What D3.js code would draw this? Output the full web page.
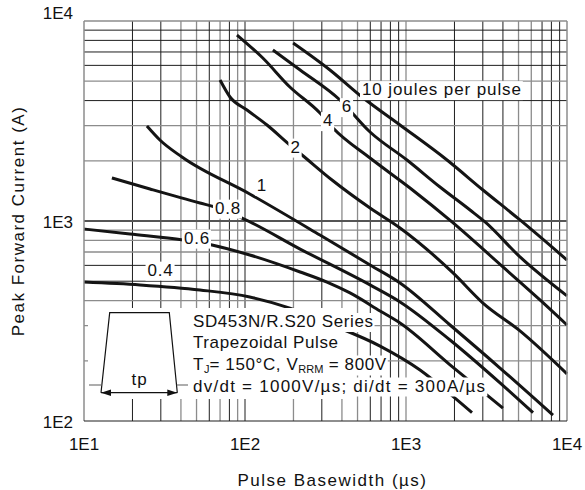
<!DOCTYPE html>
<html>
<head>
<meta charset="utf-8">
<script src="https://cdn.jsdelivr.net/npm/d3@7"></script>
<style>
  body { margin: 0; background: #fff; }
  svg text { font-family: "Liberation Sans", Arial, sans-serif; fill: #111; }
</style>
</head>
<body>
<svg id="chart" width="585" height="490"></svg>
<script>
// **** Data
const xTicks = [10, 100, 1000, 10000];
const xTickLabels = ["1E1", "1E2", "1E3", "1E4"];
const yTicks = [100, 1000, 10000];
const yTickLabels = ["1E2", "1E3", "1E4"];

// [pulse basewidth (µs), peak forward current (A)] for each energy
const curve04 = [[10, 495], [22.3, 479], [52.5, 452], [107, 417], [190, 367], [337, 305], [690, 237], [1222, 180], [2015, 130], [2570, 110]];
const curve06 = [[10, 912], [19.3, 861], [41.2, 804], [62.4, 759], [107, 676], [220, 556], [323, 495], [449, 437], [690, 355], [918, 309], [1877, 191], [4000, 116]];
const curve08 = [[14.9, 1641], [25.7, 1445], [52.5, 1230], [65.1, 1175], [95.8, 1035], [220, 724], [598, 479], [918, 394], [1877, 254], [3837, 155], [6152, 110]];
const curve1 = [[24.6, 2985], [29.6, 2541], [40.6, 2089], [107, 1365], [292, 851], [598, 603], [918, 490], [1877, 302], [3837, 184], [8185, 107]];
const curve2 = [[70, 5070], [80.7, 4169], [102.9, 3589], [137, 3020], [190, 2399], [226, 2138], [347, 1603], [598, 1161], [918, 923], [1959, 550], [3006, 389], [5105, 282], [10000, 172]];
const curve4 = [[89.2, 8511], [129, 6531], [190, 4677], [292, 3467], [352, 2917], [598, 2065], [1059, 1462], [1930, 989], [4000, 589], [6792, 403], [10000, 302]];
const curve6 = [[149, 7161], [220, 5689], [389, 4027], [598, 2786], [1014, 2018], [1626, 1479], [2499, 1135], [3097, 989], [5105, 661], [10000, 422]];
const curve10 = [[199, 7762], [337, 5689], [533, 4169], [918, 3020], [1798, 2018], [3006, 1429], [5105, 1012], [10000, 638]];

const curves = [curve04, curve06, curve08, curve1, curve2, curve4, curve6, curve10];
const energyLabels = ["0.4", "0.6", "0.8", "1", "2", "4", "6", "10 joules per pulse"];

const noteLines = ["SD453N/R.S20 Series", "Trapezoidal Pulse", "T|J|= 150°C, V|RRM| = 800V", "dv/dt = 1000V/µs; di/dt = 300A/µs"];

// **** Layout
const svg = d3.select("#chart");
const margin = { left: 84, right: 18, top: 21, bottom: 69 };
const W = 585, H = 490;

const x = d3.scaleLog().domain([10, 10000]).range([margin.left, W - margin.right]);
const y = d3.scaleLog().domain([100, 10000]).range([H - margin.bottom, margin.top]);

svg.append("rect").attr("width", W).attr("height", H).attr("fill", "#fff");

// **** Grid
function decadeValues(lo, hi) {
  const vals = [];
  for (let d = lo; d < hi; d *= 10) {
    for (let k = 2; k <= 9; k++) vals.push(k * d);
    if (d * 10 < hi) vals.push(d * 10);
  }
  return vals;
}
const lightX = new Set([40, 50, 70, 90, 200, 400, 500, 1000, 5000, 6000]);
const lightY = new Set([200, 300, 400, 700, 800, 900, 2000, 3000, 5000]);

const grid = svg.append("g");
grid.selectAll(".gx")
  .data(decadeValues(10, 10000))
  .join("line")
  .attr("x1", d => x(d)).attr("x2", d => x(d))
  .attr("y1", y(100)).attr("y2", y(10000))
  .attr("stroke", d => lightX.has(d) ? "#8c8c8c" : "#1e1e1e")
  .attr("stroke-width", d => lightX.has(d) ? 1.3 : 1);

grid.selectAll(".gy")
  .data(decadeValues(100, 10000))
  .join("line")
  .attr("x1", x(10)).attr("x2", x(10000))
  .attr("y1", d => y(d)).attr("y2", d => y(d))
  .attr("stroke", d => d === 1000 ? "#555" : lightY.has(d) ? "#8c8c8c" : "#1e1e1e")
  .attr("stroke-width", d => d === 1000 ? 2.2 : lightY.has(d) ? 1.3 : 1);

// **** Curves
const line = d3.line()
  .x(d => x(d[0]))
  .y(d => y(d[1]))
  .curve(d3.curveMonotoneX);

svg.append("g").selectAll("path")
  .data(curves)
  .join("path")
  .attr("d", line)
  .attr("fill", "none")
  .attr("stroke", "#141414")
  .attr("stroke-width", 3)
  .attr("stroke-linecap", "butt");

// **** Curve labels (placed in data units)
const labelSpots = [[29.9, 572], [50.3, 827], [78.4, 1168], [127.5, 1522], [206, 2358], [328, 3199], [430, 3758], [533, 4571]];
const labels = svg.append("g");
energyLabels.forEach((t, i) => {
  const g = labels.append("g");
  const txt = g.append("text")
    .attr("x", x(labelSpots[i][0]))
    .attr("y", y(labelSpots[i][1]))
    .attr("dy", "0.36em")
    .attr("text-anchor", i === energyLabels.length - 1 ? "start" : "middle")
    .attr("font-size", 17)
    .attr("letter-spacing", i === energyLabels.length - 1 ? 0.9 : 0.8)
    .text(t);
  const b = txt.node().getBBox();
  g.insert("rect", "text")
    .attr("x", b.x - 2).attr("y", b.y + 1)
    .attr("width", b.width + 3).attr("height", b.height)
    .attr("fill", "#fff");
});

// **** Inset: pulse shape and test conditions
const inset = svg.append("g");
inset.append("rect")
  .attr("x", x(10) + 4).attr("y", 308)
  .attr("width", 345 - x(10) - 4).attr("height", 91)
  .attr("fill", "#fff");

const ox = x(10);
inset.append("path")
  .attr("d", `M${ox + 17},392.7 L${ox + 25.7},312.7 L${ox + 85.3},312.7 L${ox + 93.3},392.7`)
  .attr("fill", "none").attr("stroke", "#111").attr("stroke-width", 1.2);
inset.append("line")
  .attr("x1", ox + 5).attr("x2", ox + 17.5).attr("y1", 385).attr("y2", 385)
  .attr("stroke", "#777").attr("stroke-width", 1.2);
inset.append("line")
  .attr("x1", ox + 92.8).attr("x2", ox + 104).attr("y1", 385).attr("y2", 385)
  .attr("stroke", "#777").attr("stroke-width", 1.2);
inset.append("line")
  .attr("x1", ox + 17).attr("x2", ox + 93.3).attr("y1", 392.7).attr("y2", 392.7)
  .attr("stroke", "#111").attr("stroke-width", 1.2);
inset.append("path")
  .attr("d", `M${ox + 17},392.7 l10,-3.2 l0,6.4 Z M${ox + 93.3},392.7 l-10,-3.2 l0,6.4 Z`)
  .attr("fill", "#111");
inset.append("text")
  .attr("x", ox + 55.5).attr("y", 385)
  .attr("text-anchor", "middle").attr("font-size", 17).attr("letter-spacing", 1)
  .text("tp");

const noteBaselines = [327, 348, 369.5, 391.5];
noteLines.forEach((s, i) => {
  const g = inset.append("g");
  const txt = g.append("text")
    .attr("x", 193).attr("y", noteBaselines[i])
    .attr("font-size", 17).attr("letter-spacing", i === 3 ? 1.25 : 0.6);
  s.split("|").forEach((part, j) => {
    txt.append("tspan")
      .attr("font-size", j % 2 ? 11 : 17)
      .attr("dy", j === 0 ? 0 : (j % 2 ? 3 : -3))
      .attr("letter-spacing", j % 2 ? 0 : null)
      .text(part);
  });
  const b = txt.node().getBBox();
  g.insert("rect", "text")
    .attr("x", b.x - 2).attr("y", b.y + 1)
    .attr("width", b.width + 3).attr("height", b.height)
    .attr("fill", "#fff");
});

// **** Frame
const frame = svg.append("g");
frame.append("line").attr("x1", x(10)).attr("x2", x(10)).attr("y1", y(100)).attr("y2", y(10000))
  .attr("stroke", "#8c8c8c").attr("stroke-width", 1.5);
frame.append("line").attr("x1", x(10000)).attr("x2", x(10000)).attr("y1", y(100)).attr("y2", y(10000))
  .attr("stroke", "#8c8c8c").attr("stroke-width", 1.5);
frame.append("line").attr("x1", x(10)).attr("x2", x(10000)).attr("y1", y(10000)).attr("y2", y(10000))
  .attr("stroke", "#8c8c8c").attr("stroke-width", 1.5);
frame.append("line").attr("x1", x(10)).attr("x2", x(10000)).attr("y1", y(100)).attr("y2", y(100))
  .attr("stroke", "#1e1e1e").attr("stroke-width", 1.2);

// **** Tick labels
svg.append("g").selectAll("text")
  .data(xTicks)
  .join("text")
  .attr("x", d => x(d))
  .attr("y", 450)
  .attr("text-anchor", "middle")
  .attr("font-size", 17)
  .text((d, i) => xTickLabels[i]);

svg.append("g").selectAll("text")
  .data(yTicks)
  .join("text")
  .attr("x", 73)
  .attr("y", d => y(d))
  .attr("dy", d => d === 10000 ? -2.5 : 6.5)
  .attr("text-anchor", "end")
  .attr("font-size", 17)
  .text((d, i) => yTickLabels[i]);

// **** Axis titles
svg.append("text")
  .attr("x", (x(10) + x(10000)) / 2 + 7)
  .attr("y", 486)
  .attr("text-anchor", "middle")
  .attr("font-size", 17)
  .attr("letter-spacing", 1.5)
  .text("Pulse Basewidth (µs)");

svg.append("text")
  .attr("transform", `translate(24,${(y(100) + y(10000)) / 2}) rotate(-90)`)
  .attr("text-anchor", "middle")
  .attr("font-size", 17)
  .attr("letter-spacing", 1.5)
  .text("Peak Forward Current (A)");
</script>
</body>
</html>
